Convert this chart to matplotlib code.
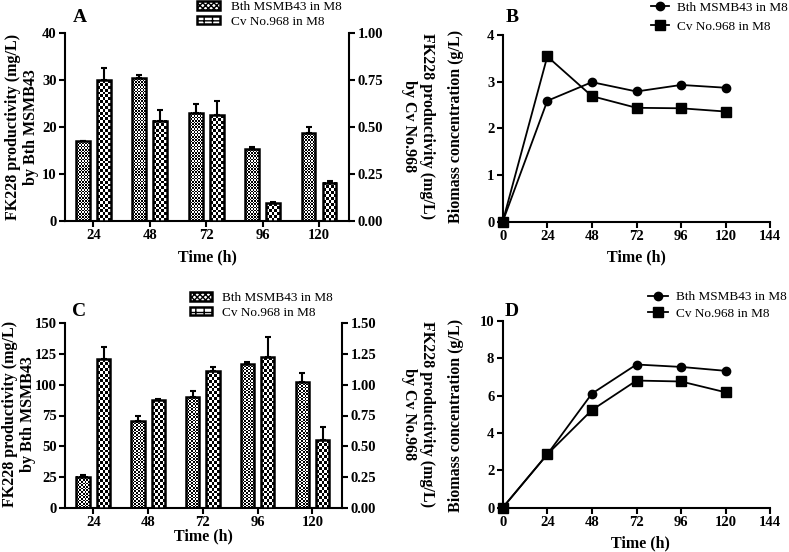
import numpy as np
import matplotlib
matplotlib.use('Agg')
import matplotlib.pyplot as plt
from matplotlib.patches import Patch
from matplotlib.lines import Line2D

plt.rcParams['font.family'] = 'Liberation Serif'
plt.rcParams['hatch.linewidth'] = 1.0

# bar data (panels A and C)
hours_bar = ['24', '48', '72', '96', '120']
a_bth = [17.0, 30.4, 23.1, 15.3, 18.7]
a_bth_err = [0.15, 0.8, 1.8, 0.5, 1.3]
a_cv = [0.75, 0.534, 0.564, 0.094, 0.204]
a_cv_err = [0.063, 0.057, 0.076, 0.009, 0.009]
c_bth = [25.3, 70.7, 89.7, 116.6, 101.9]
c_bth_err = [1.1, 3.5, 4.9, 1.6, 7.9]
c_cv = [1.212, 0.878, 1.114, 1.228, 0.552]
c_cv_err = [0.095, 0.005, 0.03, 0.158, 0.103]

# biomass data (panels B and D)
hours_line = [0, 24, 48, 72, 96, 120]
b_bth = [0, 2.59, 2.99, 2.79, 2.93, 2.87]
b_cv = [0, 3.54, 2.69, 2.44, 2.43, 2.36]
d_bth = [0, 2.86, 6.11, 7.67, 7.54, 7.33]
d_cv = [0, 2.86, 5.23, 6.81, 6.76, 6.18]

lab_bth = 'Bth MSMB43 in M8'
lab_cv = 'Cv No.968 in M8'

W, H = 789, 552
fig = plt.figure(figsize=(W / 100, H / 100), dpi=100)


def px_axes(l, t, r, b):
    return fig.add_axes([l / W, 1 - b / H, (r - l) / W, (b - t) / H])


def style(ax, spines):
    for s in ['left', 'right', 'top', 'bottom']:
        ax.spines[s].set_visible(s in spines)
        ax.spines[s].set_linewidth(1.5)
    ax.tick_params(direction='out', length=4, width=1.5, labelsize=10.5, pad=2)
    for t in ax.get_xticklabels() + ax.get_yticklabels():
        t.set_fontweight('bold')


def checker_fill(ax, bars, cell):
    # fill every bar with a black/white checkerboard of fixed pixel size
    for b in bars:
        x0, y0 = b.get_x(), b.get_y()
        x1, y1 = x0 + b.get_width(), y0 + b.get_height()
        (px0, py0), (px1, py1) = ax.transData.transform([(x0, y0), (x1, y1)])
        nx = max(1, int(round((px1 - px0) / cell)))
        ny = max(1, int(round((py1 - py0) / cell)))
        grid = np.indices((ny, nx)).sum(axis=0) % 2
        ax.imshow(grid, extent=(x0, x1, y0, y1), cmap='gray', vmin=0, vmax=1,
                  interpolation='nearest', aspect='auto', origin='lower', zorder=1)


def bar_panel(box, xlim, bth, bth_err, cv, cv_err, lmax, lstep, rmax, rstep, rfmt):
    ax = px_axes(*box)
    ax2 = ax.twinx()
    x = np.arange(len(hours_bar))
    ax.set_xlim(*xlim)
    ax.set_ylim(0, lmax)
    ax2.set_ylim(0, rmax)
    off, w = 0.186, 0.243
    b1 = ax.bar(x - off, bth, w, facecolor='none', edgecolor='black', linewidth=1.8, zorder=2)
    ax.errorbar(x - off, bth, yerr=[np.zeros(len(bth)), bth_err], fmt='none', ecolor='black',
                elinewidth=1.5, capsize=2.5, capthick=1.5, zorder=3)
    b2 = ax2.bar(x + off, cv, w, facecolor='none', edgecolor='black', linewidth=1.8, zorder=2)
    ax2.errorbar(x + off, cv, yerr=[np.zeros(len(cv)), cv_err], fmt='none', ecolor='black',
                 elinewidth=1.5, capsize=2.5, capthick=1.5, zorder=3)
    checker_fill(ax, b1, 1.6)
    checker_fill(ax2, b2, 2.9)
    ax.set_xticks(x)
    ax.set_xticklabels(hours_bar)
    ax.set_yticks(np.arange(0, lmax + 1e-9, lstep))
    ax2.set_yticks(np.arange(0, rmax + 1e-9, rstep))
    ax2.set_yticklabels([rfmt.format(v) for v in np.arange(0, rmax + 1e-9, rstep)])
    style(ax, ['left', 'bottom'])
    style(ax2, ['right'])
    return ax


def line_panel(box, bth, cv, ymax, ystep):
    ax = px_axes(*box)
    ax.plot(hours_line, bth, color='black', lw=1.3, marker='o', ms=6, clip_on=False, zorder=3)
    ax.plot(hours_line, cv, color='black', lw=1.3, marker='s', ms=6.5, clip_on=False, zorder=3)
    ax.set_xlim(0, 144)
    ax.set_ylim(0, ymax)
    ax.set_xticks(np.arange(0, 145, 24))
    ax.set_yticks(np.arange(0, ymax + 1e-9, ystep))
    style(ax, ['left', 'bottom'])
    return ax


bar_panel((65, 33.3, 349, 221), (-0.502, 4.53), a_bth, a_bth_err, a_cv, a_cv_err,
          40, 10, 1.0, 0.25, '{:.2f}')
bar_panel((65, 323.3, 342, 507.7), (-0.517, 4.54), c_bth, c_bth_err, c_cv, c_cv_err,
          150, 25, 1.5, 0.25, '{:.2f}')
line_panel((502.7, 35, 770.3, 221.7), b_bth, b_cv, 4, 1)
line_panel((502.7, 321, 770.3, 507.7), d_bth, d_cv, 10, 2)


def ftext(x, y, s, **kw):
    fig.text(x / W, 1 - y / H, s, ha='center', va='center', **kw)


lab_kw = dict(fontsize=11.5, fontweight='bold', multialignment='center')
# y labels
ftext(22, 127, 'FK228 productivity (mg/L)\nby Bth MSMB43', rotation=90, **lab_kw)
ftext(418, 126, 'FK228 productivity (mg/L)\nby Cv No.968', rotation=270, **lab_kw)
ftext(456, 126, 'Biomass concentration (g/L)', rotation=90, **lab_kw)
ftext(19, 414, 'FK228 productivity (mg/L)\nby Bth MSMB43', rotation=90, **lab_kw)
ftext(418, 414, 'FK228 productivity (mg/L)\nby Cv No.968', rotation=270, **lab_kw)
ftext(456, 415, 'Biomass concentration (g/L)', rotation=90, **lab_kw)
# x labels
ftext(207, 257, 'Time (h)', **lab_kw)
ftext(636, 257, 'Time (h)', **lab_kw)
ftext(203, 536, 'Time (h)', **lab_kw)
ftext(640, 543, 'Time (h)', **lab_kw)
# panel letters
for s, x, y in [('A', 80, 17), ('B', 512, 17), ('C', 79, 312), ('D', 512, 312)]:
    ftext(x, y, s, fontsize=14, fontweight='bold')

# legends
bar_handles = [Patch(facecolor='white', edgecolor='black', hatch='xxxxxx', linewidth=1.8),
               Patch(facecolor='white', edgecolor='black', hatch='++', linewidth=1.8)]
line_handles = [Line2D([], [], color='black', lw=1.3, marker='o', ms=6),
                Line2D([], [], color='black', lw=1.3, marker='s', ms=6.5)]
leg_kw = dict(frameon=False, fontsize=9.5, borderpad=0, borderaxespad=0, loc='center left')
fig.legend(bar_handles, [lab_bth, lab_cv], bbox_to_anchor=(197 / W, 1 - 14.5 / H),
           handlelength=1.75, handleheight=0.6, handletextpad=0.8, labelspacing=0.2, **leg_kw)
fig.legend(bar_handles, [lab_bth, lab_cv], bbox_to_anchor=(190 / W, 1 - 305.5 / H),
           handlelength=1.7, handleheight=0.6, handletextpad=0.75, labelspacing=0.2, **leg_kw)
fig.legend(line_handles, [lab_bth, lab_cv], bbox_to_anchor=(651 / W, 1 - 17 / H),
           handlelength=1.4, handletextpad=0.6, labelspacing=0.5, **leg_kw)
fig.legend(line_handles, [lab_bth, lab_cv], bbox_to_anchor=(648 / W, 1 - 305.5 / H),
           handlelength=1.5, handletextpad=0.65, labelspacing=0.35, **leg_kw)

fig.savefig('out.png', dpi=100)
